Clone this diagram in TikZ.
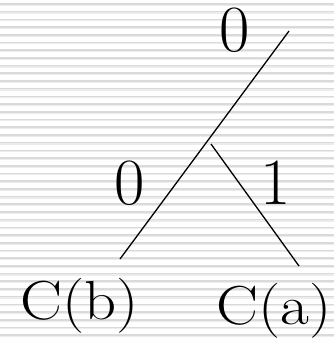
\documentclass[tikz,border=0pt]{standalone}
\usepackage{tikz}
\usetikzlibrary{calc}
\definecolor{stripegray}{RGB}{218,218,218}
\definecolor{stripelight}{RGB}{236,236,236}
\tikzset{
    branch/.style={line width=1.3pt,black},
    bitlabel/.style={inner sep=0pt,font=\fontsize{66}{66}\selectfont},
    leaflabel/.style={inner sep=0pt,font=\fontsize{55}{55}\selectfont},
    stripe/.style={fill=stripegray,draw=none},
    stripesoft/.style={fill=stripelight,draw=none}
}

\begin{document}
\begin{tikzpicture}[x=1pt,y=-1pt]
    % Canvas
    \useasboundingbox (0,0) rectangle (334,339);
    \fill[white] (0,0) rectangle (334,339);
    % Striped background
    \foreach \k in {0,...,43} {
        \fill[stripe] (0,{3.2+7.7*\k}) rectangle (334,{4.8+7.7*\k});
        \fill[stripesoft] (0,{4.8+7.7*\k}) rectangle (334,{6.0+7.7*\k});
    }
    % Tree
    \coordinate (root) at (289,31);
    \coordinate (fork) at (211,144);
    \coordinate (leftend) at (120,259);
    \coordinate (rightend) at (299,266);
    \draw[branch] (root) -- (leftend);
    \draw[branch] (fork) -- (rightend);
    % Bits
    \node[bitlabel] (bittop) at (234.5,30.5) {0};
    \node[bitlabel] (bitleft) at (129.5,183) {0};
    \node[bitlabel] (bitright) at (276,182.5) {1};
    % Leaves
    \node[leaflabel] (leafb) at (80,306) {\scalebox{1.14}[1]{C(b)}};
    \node[leaflabel] (leafa) at (274,311) {\scalebox{1.14}[1]{C(a)}};
\end{tikzpicture}
\end{document}
